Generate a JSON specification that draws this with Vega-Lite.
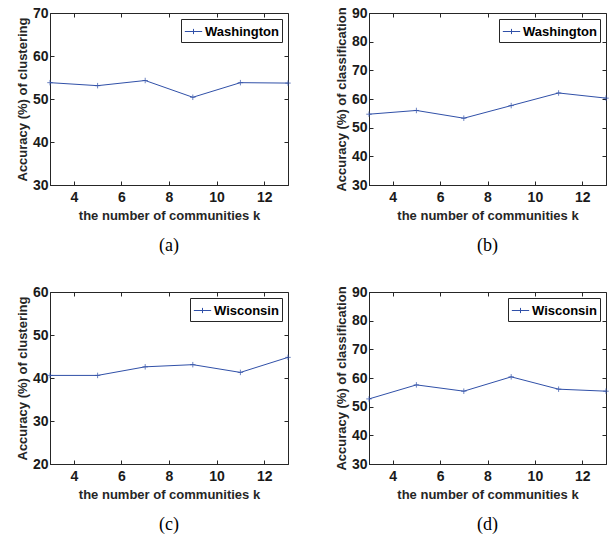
{
  "$schema": "https://vega.github.io/schema/vega-lite/v6.json",
  "padding": {"left": 15, "top": 5, "right": 2, "bottom": 2},
  "background": "white",
  "config": {
    "view": {"stroke": "#262626", "strokeWidth": 1},
    "font": "Liberation Sans",
    "axis": {
      "grid": false, "domainColor": "#262626", "tickColor": "#262626",
      "labelColor": "#1a1a1a", "titleColor": "#262626",
      "labelFont": "Liberation Sans", "labelFontWeight": "bold", "labelFontSize": 14,
      "titleFont": "Liberation Sans", "titleFontWeight": "bold", "titleFontSize": 13,
      "tickSize": -4
    },
    "legend": {
      "orient": "top-right", "offset": 6, "strokeColor": "#262626", "fillColor": "white",
      "padding": 3, "title": null, "labelFont": "Liberation Sans", "labelFontWeight": "bold",
      "labelFontSize": 13, "labelColor": "black", "labelOffset": 2,
      "symbolType": "M-1,0L1,0M0,-0.3L0,0.3", "symbolSize": 300, "symbolStrokeWidth": 1,
      "symbolFillColor": "transparent"
    },
    "title": {"orient": "bottom", "font": "Liberation Serif", "fontSize": 18, "fontWeight": "normal", "color": "black", "offset": 15}
  },
  "resolve": {"scale": {"color": "independent"}, "legend": {"color": "independent"}},
  "datasets": {
    "a": [
      {"k": 3, "acc": 53.8, "s": "Washington"}, {"k": 5, "acc": 53.1, "s": "Washington"},
      {"k": 7, "acc": 54.3, "s": "Washington"}, {"k": 9, "acc": 50.4, "s": "Washington"},
      {"k": 11, "acc": 53.8, "s": "Washington"}, {"k": 13, "acc": 53.7, "s": "Washington"}
    ],
    "b": [
      {"k": 3, "acc": 54.7, "s": "Washington"}, {"k": 5, "acc": 56.0, "s": "Washington"},
      {"k": 7, "acc": 53.3, "s": "Washington"}, {"k": 9, "acc": 57.7, "s": "Washington"},
      {"k": 11, "acc": 62.1, "s": "Washington"}, {"k": 13, "acc": 60.3, "s": "Washington"}
    ],
    "c": [
      {"k": 3, "acc": 40.6, "s": "Wisconsin"}, {"k": 5, "acc": 40.6, "s": "Wisconsin"},
      {"k": 7, "acc": 42.6, "s": "Wisconsin"}, {"k": 9, "acc": 43.1, "s": "Wisconsin"},
      {"k": 11, "acc": 41.3, "s": "Wisconsin"}, {"k": 13, "acc": 44.8, "s": "Wisconsin"}
    ],
    "d": [
      {"k": 3, "acc": 52.7, "s": "Wisconsin"}, {"k": 5, "acc": 57.6, "s": "Wisconsin"},
      {"k": 7, "acc": 55.4, "s": "Wisconsin"}, {"k": 9, "acc": 60.4, "s": "Wisconsin"},
      {"k": 11, "acc": 56.1, "s": "Wisconsin"}, {"k": 13, "acc": 55.4, "s": "Wisconsin"}
    ]
  },
  "columns": 2,
  "spacing": {"column": 40, "row": 28},
  "concat": [
    {
      "title": "(a)", "width": 238, "height": 172, "data": {"name": "a"},
      "resolve": {"axis": {"x": "independent", "y": "independent"}},
      "layer": [
        {"mark": {"type": "line", "strokeWidth": 1},
         "encoding": {
           "x": {"field": "k", "type": "quantitative", "scale": {"domain": [3, 13], "nice": false}, "axis": {"values": [4,6,8,10,12], "title": "the number of communities k", "labelFontWeight": "bold", "labelPadding": 9, "titlePadding": 5}},
           "y": {"field": "acc", "type": "quantitative", "scale": {"domain": [30, 70], "nice": false}, "axis": {"values": [30,40,50,60,70], "title": "Accuracy (%) of clustering", "labelFontWeight": "bold", "labelPadding": 6, "titlePadding": 3}},
           "color": {"field": "s", "type": "nominal", "scale": {"range": ["#3050a8"]}}
         }},
        {"mark": {"type": "point", "shape": "M-1,0L1,0M0,-1L0,1", "size": 30, "filled": false, "strokeWidth": 1, "color": "#3050a8"},
         "encoding": {
           "x": {"field": "k", "type": "quantitative", "axis": {"orient": "top", "values": [4,6,8,10,12], "labels": false, "domain": false, "title": null}},
           "y": {"field": "acc", "type": "quantitative", "axis": {"orient": "right", "values": [30,40,50,60,70], "labels": false, "domain": false, "title": null}}
         }}
      ]
    },
    {
      "title": "(b)", "width": 237, "height": 172, "data": {"name": "b"},
      "resolve": {"axis": {"x": "independent", "y": "independent"}},
      "layer": [
        {"mark": {"type": "line", "strokeWidth": 1},
         "encoding": {
           "x": {"field": "k", "type": "quantitative", "scale": {"domain": [3, 13], "nice": false}, "axis": {"values": [4,6,8,10,12], "title": "the number of communities k", "labelFontWeight": "bold", "labelPadding": 9, "titlePadding": 5}},
           "y": {"field": "acc", "type": "quantitative", "scale": {"domain": [30, 90], "nice": false}, "axis": {"values": [30,40,50,60,70,80,90], "title": "Accuracy (%) of classification", "labelFontWeight": "bold", "labelPadding": 6, "titlePadding": 3}},
           "color": {"field": "s", "type": "nominal", "scale": {"range": ["#3050a8"]}}
         }},
        {"mark": {"type": "point", "shape": "M-1,0L1,0M0,-1L0,1", "size": 30, "filled": false, "strokeWidth": 1, "color": "#3050a8"},
         "encoding": {
           "x": {"field": "k", "type": "quantitative", "axis": {"orient": "top", "values": [4,6,8,10,12], "labels": false, "domain": false, "title": null}},
           "y": {"field": "acc", "type": "quantitative", "axis": {"orient": "right", "values": [30,40,50,60,70,80,90], "labels": false, "domain": false, "title": null}}
         }}
      ]
    },
    {
      "title": "(c)", "width": 238, "height": 172, "data": {"name": "c"},
      "resolve": {"axis": {"x": "independent", "y": "independent"}},
      "layer": [
        {"mark": {"type": "line", "strokeWidth": 1},
         "encoding": {
           "x": {"field": "k", "type": "quantitative", "scale": {"domain": [3, 13], "nice": false}, "axis": {"values": [4,6,8,10,12], "title": "the number of communities k", "labelFontWeight": "bold", "labelPadding": 9, "titlePadding": 5}},
           "y": {"field": "acc", "type": "quantitative", "scale": {"domain": [20, 60], "nice": false}, "axis": {"values": [20,30,40,50,60], "title": "Accuracy (%) of clustering", "labelFontWeight": "bold", "labelPadding": 6, "titlePadding": 3}},
           "color": {"field": "s", "type": "nominal", "scale": {"range": ["#3050a8"]}}
         }},
        {"mark": {"type": "point", "shape": "M-1,0L1,0M0,-1L0,1", "size": 30, "filled": false, "strokeWidth": 1, "color": "#3050a8"},
         "encoding": {
           "x": {"field": "k", "type": "quantitative", "axis": {"orient": "top", "values": [4,6,8,10,12], "labels": false, "domain": false, "title": null}},
           "y": {"field": "acc", "type": "quantitative", "axis": {"orient": "right", "values": [20,30,40,50,60], "labels": false, "domain": false, "title": null}}
         }}
      ]
    },
    {
      "title": "(d)", "width": 237, "height": 172, "data": {"name": "d"},
      "resolve": {"axis": {"x": "independent", "y": "independent"}},
      "layer": [
        {"mark": {"type": "line", "strokeWidth": 1},
         "encoding": {
           "x": {"field": "k", "type": "quantitative", "scale": {"domain": [3, 13], "nice": false}, "axis": {"values": [4,6,8,10,12], "title": "the number of communities k", "labelFontWeight": "bold", "labelPadding": 9, "titlePadding": 5}},
           "y": {"field": "acc", "type": "quantitative", "scale": {"domain": [30, 90], "nice": false}, "axis": {"values": [30,40,50,60,70,80,90], "title": "Accuracy (%) of classification", "labelFontWeight": "bold", "labelPadding": 6, "titlePadding": 3}},
           "color": {"field": "s", "type": "nominal", "scale": {"range": ["#3050a8"]}}
         }},
        {"mark": {"type": "point", "shape": "M-1,0L1,0M0,-1L0,1", "size": 30, "filled": false, "strokeWidth": 1, "color": "#3050a8"},
         "encoding": {
           "x": {"field": "k", "type": "quantitative", "axis": {"orient": "top", "values": [4,6,8,10,12], "labels": false, "domain": false, "title": null}},
           "y": {"field": "acc", "type": "quantitative", "axis": {"orient": "right", "values": [30,40,50,60,70,80,90], "labels": false, "domain": false, "title": null}}
         }}
      ]
    }
  ]
}
